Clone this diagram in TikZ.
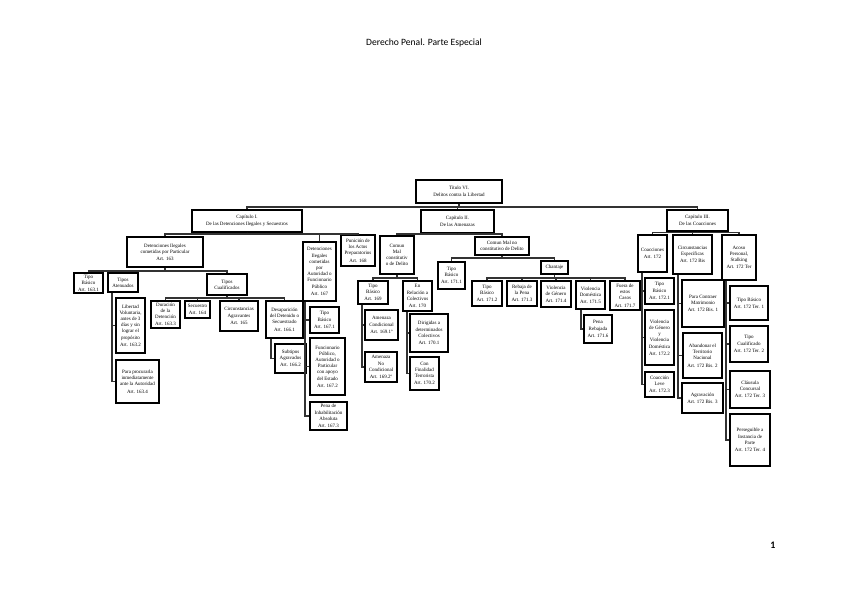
\documentclass[tikz,border=0pt]{standalone}
\usepackage{fontspec}
\setmainfont{Liberation Serif}
\newfontfamily\headfont{Carlito}
\usetikzlibrary{shadows}
\tikzset{
  orgbox/.style={draw=black, line width=1.1pt, fill=white, align=center,
                 inner sep=0.4pt, font=\fontsize{5}{6.2}\selectfont,
                 drop shadow={shadow xshift=0.7pt, shadow yshift=-0.7pt,
                              fill=black!40, opacity=1}},
  sz/.style 2 args={minimum width=#1pt, minimum height=#2pt},
  conn/.style={line width=1.1pt, draw=black!80},
}
\begin{document}
\begin{tikzpicture}[x=1pt, y=-1pt]
  \fill[white] (0,0) rectangle (848,599);
  \useasboundingbox (0,0) rectangle (848,599);
  \node[font=\headfont\fontsize{9.6}{12}\selectfont] (title) at (424,43) {Derecho Penal. Parte Especial};
  \node[font=\headfont\bfseries\fontsize{10}{12}\selectfont] (pagenum) at (773,545) {1};
  % title and chapters
  \node[orgbox, sz={86}{23}] (root) at (459,191.5) {Título VI.\\[1pt]Delitos contra la Libertad};
  \node[orgbox, sz={110}{22}] (cap1) at (247,221) {Capítulo I.\\[1pt]De las Detenciones Ilegales y Secuestros};
  \node[orgbox, sz={73}{23}] (cap2) at (457.5,221.5) {Capítulo II.\\[1pt]De las Amenazas};
  \node[orgbox, sz={61}{21}] (cap3) at (697.5,220.5) {Capítulo III.\\[1pt]De las Coacciones};
  \foreach \c in {cap1,cap2,cap3}
    \draw[conn] (root.south) |- (\c.north |- 0,207) -- (\c.north);
  % capitulo I
  \node[orgbox, sz={76}{30}] (dpart) at (165,252) {Detenciones Ilegales\\cometidas por Particular\\[1pt]Art. 163};
  \node[orgbox, sz={33}{59}] (dauto) at (319.5,271.5) {Detenciones\\Ilegales\\cometidas\\por\\Autoridad o\\Funcionario\\Público\\[1pt]Art. 167};
  \node[orgbox, sz={34}{31}] (punic) at (358,250.5) {Punición de\\los Actos\\Preparatorios\\[1pt]Art. 168};
  \foreach \c in {dpart,dauto,punic}
    \draw[conn] (cap1.south) |- (\c.north |- 0,234) -- (\c.north);
  \node[orgbox, sz={29}{20}] (tb1631) at (88.5,283) {Tipo\\Básico\\[0.8pt]Art. 163.1};
  \node[orgbox, sz={30}{19}] (tatn) at (123,282.5) {Tipos\\Atenuados};
  \node[orgbox, sz={40}{21}] (tcual) at (227,284.5) {Tipos\\Cualificados};
  \foreach \c in {tb1631,tatn,tcual}
    \draw[conn] (dpart.south) |- (\c.north |- 0,271) -- (\c.north);
  \node[orgbox, sz={29}{55}] (lib) at (130.5,325.5) {Libertad\\Voluntaria,\\antes de 3\\días y sin\\lograr el\\propósito\\[1pt]Art. 163.2};
  \node[orgbox, sz={43}{43}] (proc) at (137.5,381.5) {Para procurarla\\inmediatamente\\ante la Autoridad\\[1pt]Art. 163.4};
  \foreach \c in {lib,proc}
    \draw[conn] (tatn.south -| 112,0) |- (\c.west);
  \node[orgbox, sz={29}{27}] (dur) at (165.5,314.5) {Duración\\de la\\Detención\\[0.8pt]Art. 163.3};
  \node[orgbox, sz={25}{17}] (secu) at (197.5,309.5) {Secuestro\\[0.8pt]Art. 164};
  \node[orgbox, sz={38}{30}] (circ) at (239,316) {Circunstancias\\Agravantes\\[1pt]Art. 165};
  \node[orgbox, sz={37}{37}] (desa) at (284.5,319.5) {Desaparición\\del Detenido o\\Secuestrado\\[1pt]Art. 166.1};
  \foreach \c in {dur,secu,circ,desa}
    \draw[conn] (tcual.south) |- (\c.north |- 0,298) -- (\c.north);
  \node[orgbox, sz={31}{29}] (subt) at (290.5,358.5) {Subtipos\\Agravados\\[1pt]Art. 166.2};
  \draw[conn] (desa.south -| 271,0) |- (subt.west);
  \node[orgbox, sz={29}{26}] (tb1671) at (324.5,320) {Tipo\\Básico\\[1pt]Art. 167.1};
  \node[orgbox, sz={35}{57}] (func) at (327.5,366.5) {Funcionario\\Público,\\Autoridad o\\Particular\\con apoyo\\del Estado\\[1pt]Art. 167.2};
  \node[orgbox, sz={37}{28}] (pena167) at (328.5,416) {Pena de\\Inhabilitación\\Absoluta\\[1pt]Art. 167.3};
  \foreach \c in {tb1671,func,pena167}
    \draw[conn] (dauto.south -| 305,0) |- (\c.west);
  % capitulo II
  \node[orgbox, sz={34}{38}] (comun) at (397,255) {Comun\\Mal\\constitutiv\\o de Delito};
  \node[orgbox, sz={54}{18}] (nocomun) at (502,246) {Comun Mal no\\constitutivo de Delito};
  \foreach \c in {comun,nocomun}
    \draw[conn] (cap2.south) |- (\c.north |- 0,234) -- (\c.north);
  \node[orgbox, sz={30}{23}] (tb169) at (373,292.5) {Tipo\\Básico\\[1pt]Art. 169};
  \node[orgbox, sz={29}{30}] (rel) at (417.5,296) {En\\Relación a\\Colectivos\\[1pt]Art. 170};
  \foreach \c in {tb169,rel}
    \draw[conn] (comun.south) |- (\c.north |- 0,278) -- (\c.north);
  \node[orgbox, sz={33}{30}] (ac1) at (381.5,325) {Amenaza\\Condicional\\[1pt]Art. 169.1º};
  \node[orgbox, sz={32}{30}] (ac2) at (381,367) {Amenaza\\No\\Condicional\\[1pt]Art. 169.2º};
  \foreach \c in {ac1,ac2}
    \draw[conn] (tb169.south -| 362,0) |- (\c.west);
  \node[orgbox, sz={38}{38}] (dir) at (429,333) {Dirigidas a\\determinados\\Colectivos\\[1pt]Art. 170.1};
  \node[orgbox, sz={29}{33}] (terr) at (424.5,373.5) {Con\\Finalidad\\Terrorista\\[1pt]Art. 170.2};
  \foreach \c in {dir,terr}
    \draw[conn] (rel.south -| 407,0) |- (\c.west);
  \node[orgbox, sz={27}{27}] (tb1711) at (451.5,275.5) {Tipo\\Básico\\[1pt]Art. 171.1};
  \node[orgbox, sz={27}{13}] (chan) at (554.5,267.5) {Chantaje};
  \foreach \c in {tb1711,chan}
    \draw[conn] (nocomun.south) |- (\c.north |- 0,258) -- (\c.north);
  \node[orgbox, sz={30}{25}] (tb1712) at (487,293.5) {Tipo\\Básico\\[1pt]Art. 171.2};
  \node[orgbox, sz={30}{25}] (reb) at (522,293.5) {Rebaja de\\la Pena\\[1pt]Art. 171.3};
  \node[orgbox, sz={30}{26}] (vg1714) at (556,294) {Violencia\\de Género\\[1pt]Art. 171.4};
  \node[orgbox, sz={29}{28}] (vd1715) at (590.5,295) {Violencia\\Doméstica\\[1pt]Art. 171.5};
  \node[orgbox, sz={30}{29}] (fuera) at (625,295.5) {Fuera de\\estos\\Casos\\[1pt]Art. 171.7};
  \foreach \c in {tb1712,reb,vg1714,vd1715,fuera}
    \draw[conn] (chan.south) |- (\c.north |- 0,278) -- (\c.north);
  \node[orgbox, sz={28}{28}] (pena1716) at (598,329) {Pena\\Rebajada\\[1pt]Art. 171.6};
  \draw[conn] (vd1715.south -| 581,0) |- (pena1716.west);
  % capitulo III
  \node[orgbox, sz={29}{37}] (coac) at (652.5,253.5) {Coacciones\\[1pt]Art. 172};
  \node[orgbox, sz={39}{39}] (cesp) at (692.5,254.5) {Circunstancias\\Específicas\\[1pt]Art. 172 Bis};
  \node[orgbox, sz={34}{45}] (acoso) at (739,257.5) {Acoso\\Personal,\\Stalking\\[1pt]Art. 172 Ter};
  \foreach \c in {coac,cesp,acoso}
    \draw[conn] (cap3.south) |- (\c.north |- 0,232.5) -- (\c.north);
  \node[orgbox, sz={29}{26}] (tb1721) at (659.5,291) {Tipo\\Básico\\[1pt]Art. 172.1};
  \node[orgbox, sz={29}{55}] (vgd) at (659.5,337.5) {Violencia\\de Género\\y\\Violencia\\Doméstica\\[1pt]Art. 172.2};
  \node[orgbox, sz={29}{25}] (leve) at (659.5,384.5) {Coacción\\Leve\\[1pt]Art. 172.3};
  \foreach \c in {tb1721,vgd,leve}
    \draw[conn] (coac.south -| 642,0) |- (\c.west);
  \node[orgbox, sz={42}{47}] (matr) at (703,303.5) {Para Contraer\\Matrimonio\\[1pt]Art. 172 Bis. 1};
  \node[orgbox, sz={39}{45}] (aband) at (702.5,355.5) {Abandonar el\\Territorio\\Nacional\\[1pt]Art. 172 Bis. 2};
  \node[orgbox, sz={41}{30}] (agrav) at (702.5,398) {Agravación\\[1pt]Art. 172 Bis. 3};
  \foreach \c in {matr,aband,agrav}
    \draw[conn] (cesp.south -| 678,0) |- (\c.west);
  \node[orgbox, sz={38}{34}] (ter1) at (749,303) {Tipo Básico\\[1pt]Art. 172 Ter. 1};
  \node[orgbox, sz={38}{36}] (ter2) at (749,344) {Tipo\\Cualificado\\[1pt]Art. 172 Ter. 2};
  \node[orgbox, sz={40}{37}] (ter3) at (750,389.5) {Cláusula\\Concursal\\[1pt]Art. 172 Ter. 3};
  \node[orgbox, sz={40}{52}] (ter4) at (750,440) {Perseguible a\\Instancia de\\Parte\\[1pt]Art. 172 Ter. 4};
  \foreach \c in {ter1,ter2,ter3,ter4}
    \draw[conn] (acoso.south -| 726,0) |- (\c.west);
\end{tikzpicture}
\end{document}
